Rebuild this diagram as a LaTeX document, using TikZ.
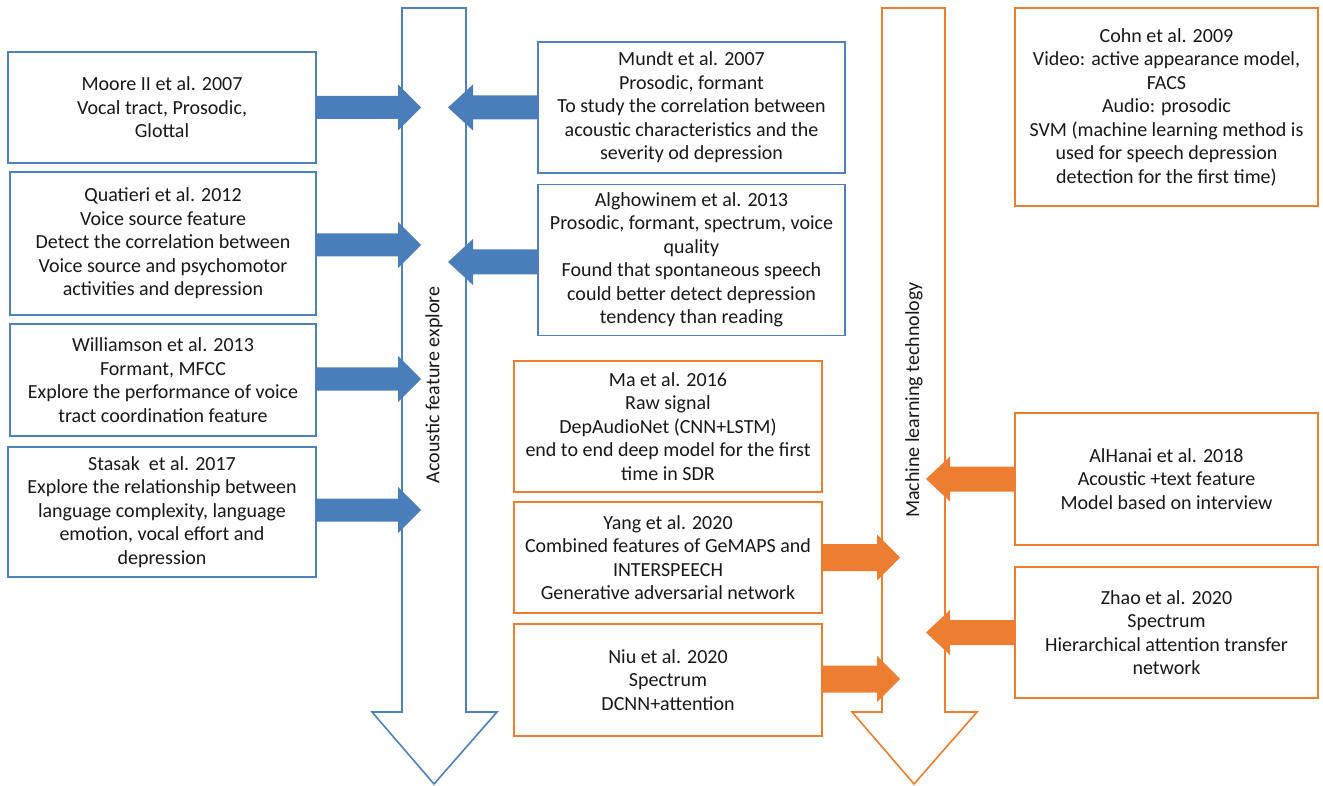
\documentclass[tikz,border=0pt]{standalone}
\usepackage{fontspec}
\setmainfont{Carlito}
\usetikzlibrary{calc}
\definecolor{bline}{HTML}{4F81BD}
\definecolor{bfill}{HTML}{4A7EBB}
\definecolor{oline}{HTML}{ED7D31}
\definecolor{ofill}{HTML}{ED7D31}
\tikzset{
  txt/.style={font=\fontsize{20}{23.5}\selectfont, align=center, inner sep=0pt, outer sep=0pt, text=black!90},
  bbox/.style={txt, draw=bline, line width=1.6pt, fill=white},
  obox/.style={txt, draw=oline, line width=1.6pt, fill=white},
  bigb/.style={draw=bline, line width=1.6pt, fill=white, line join=miter},
  bigo/.style={draw=oline, line width=1.6pt, fill=white, line join=miter},
  lbl/.style={font=\fontsize{20}{24}\selectfont, rotate=90, inner sep=0pt, text=black!90}
}
% block arrow: #1 style, #2 start, #3 dir (1 right / -1 left), #4 shaft len, #5 head len, #6 shaft half, #7 head half
\newcommand\blockarrow[7]{%
  \fill[#1] (#2) ++(0,-#6) -- ++(#3*#4,0) -- ++(0,#6-#7) -- ++(#3*#5,#7) -- ++(-#3*#5,#7) -- ++(0,#6-#7) -- ++(-#3*#4,0) -- cycle;}
\begin{document}
\begin{tikzpicture}[x=1pt,y=-1pt]
\useasboundingbox (0,0) rectangle (1323,786);
% big arrows
\draw[bigb] (402,8) -- (466,8) -- (466,712) -- (497,712) -- (434,784) -- (372,712) -- (402,712) -- cycle;
\draw[bigo] (882,8) -- (945,8) -- (945,712) -- (977,712) -- (914,784) -- (852,712) -- (882,712) -- cycle;
\node[lbl] (acl) at (434,385) {Acoustic feature explore};
\node[lbl] (mll) at (914,400) {Machine learning technology};
% left column
\node[bbox, minimum width=308pt, minimum height=111pt] (moore) at (162,107.5) {Moore II et al. 2007\\Vocal tract, Prosodic,\\Glottal};
\node[bbox, minimum width=306pt, minimum height=143pt] (quat) at (163,243.5) {Quatieri et al. 2012\\Voice source feature\\Detect the correlation between\\Voice source and psychomotor\\activities and depression};
\node[bbox, minimum width=306pt, minimum height=112pt] (will) at (163,380) {Williamson et al. 2013\\Formant, MFCC\\Explore the performance of voice\\tract coordination feature};
\node[bbox, minimum width=308pt, minimum height=130pt] (stas) at (162,512) {Stasak\ \ et al. 2017\\Explore the relationship between\\language complexity, language\\emotion, vocal effort and\\depression};
% middle blue
\node[bbox, minimum width=307pt, minimum height=131pt] (mundt) at (691.5,107.5) {Mundt et al. 2007\\Prosodic, formant\\To study the correlation between\\acoustic characteristics and the\\severity od depression};
\node[bbox, minimum width=307pt, minimum height=151pt] (algh) at (691.5,260) {Alghowinem et al. 2013\\Prosodic, formant, spectrum, voice\\quality\\Found that spontaneous speech\\could better detect depression\\tendency than reading};
% middle orange
\node[obox, minimum width=308pt, minimum height=131pt] (ma) at (668,426.5) {Ma et al. 2016\\Raw signal\\DepAudioNet (CNN+LSTM)\\end to end deep model for the first\\time in SDR};
\node[obox, minimum width=308pt, minimum height=111pt] (yang) at (668,557.5) {Yang et al. 2020\\Combined features of GeMAPS and\\INTERSPEECH\\Generative adversarial network};
\node[obox, minimum width=308pt, minimum height=112pt] (niu) at (668,680) {Niu et al. 2020\\Spectrum\\DCNN+attention};
% right orange
\node[obox, minimum width=303pt, minimum height=198pt] (cohn) at (1166.5,107) {Cohn et al. 2009\\Video: active appearance model,\\FACS\\Audio: prosodic\\SVM (machine learning method is\\used for speech depression\\detection for the first time)};
\node[obox, minimum width=303pt, minimum height=132pt] (alh) at (1166.5,479) {AlHanai et al. 2018\\Acoustic +text feature\\Model based on interview};
\node[obox, minimum width=303pt, minimum height=131pt] (zhao) at (1166.5,632.5) {Zhao et al. 2020\\Spectrum\\Hierarchical attention transfer\\network};
% blue block arrows
\blockarrow{bfill}{moore.east}{1}{82}{23}{11.5}{23}
\blockarrow{bfill}{$(quat.east)+(0,1.5)$}{1}{82}{23}{11.5}{23}
\blockarrow{bfill}{$(will.east)+(0,-1)$}{1}{82}{23}{11.5}{23}
\blockarrow{bfill}{$(stas.east)+(0,-2)$}{1}{82}{23}{11.5}{23}
\blockarrow{bfill}{mundt.west}{-1}{65}{25}{12}{23}
\blockarrow{bfill}{$(algh.west)+(0,2)$}{-1}{65}{25}{12.5}{23}
% orange block arrows
\blockarrow{ofill}{yang.east}{1}{55}{23}{13.5}{23}
\blockarrow{ofill}{$(niu.east)+(0,-1)$}{1}{55}{23}{13.5}{23}
\blockarrow{ofill}{alh.west}{-1}{65}{24}{12.5}{22.5}
\blockarrow{ofill}{zhao.west}{-1}{65}{24}{12.5}{22.5}
\end{tikzpicture}
\end{document}
